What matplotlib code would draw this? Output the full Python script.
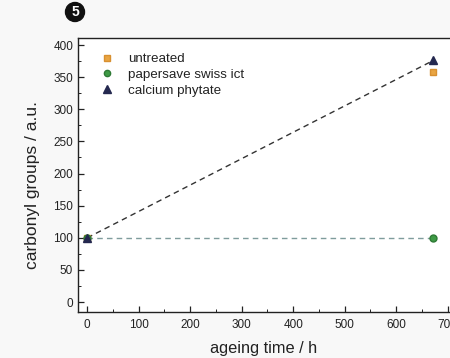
import matplotlib
matplotlib.use("Agg")
import matplotlib.pyplot as plt
from matplotlib.ticker import MultipleLocator

plt.rcParams['font.family'] = ['Liberation Sans', 'DejaVu Sans']

time_h = [0, 672]
untreated = [100, 358]
papersave = [100, 100]
calcium = [100, 376]

fig = plt.figure(figsize=(4.5, 3.58), dpi=100, facecolor='#F8F8F8')
ax = fig.add_axes([78/450, (358-312)/358, 1 - 78/450 + 0.02, (312-38)/358])
ax.set_facecolor('white')

ax.plot(time_h, calcium, linestyle=(0, (4, 3)), color='#333333', lw=1.0, zorder=1)
ax.plot(time_h, papersave, linestyle=(0, (4, 3)), color='#7F9C9C', lw=1.0, zorder=1)

ax.plot(time_h, untreated, 's', color='#E9A542', ms=4.5, mec='#D89030', label='untreated', zorder=3)
ax.plot(time_h, papersave, 'o', color='#3E9A45', ms=5, mec='#2E7A35', label='papersave swiss ict', zorder=3)
ax.plot(time_h, calcium, '^', color='#24284F', ms=6, label='calcium phytate', zorder=4)

ax.set_xlim(-18, 722)
ax.set_ylim(-15.5, 411)
ax.xaxis.set_major_locator(MultipleLocator(100))
ax.xaxis.set_minor_locator(MultipleLocator(50))
ax.yaxis.set_major_locator(MultipleLocator(50))
ax.yaxis.set_minor_locator(MultipleLocator(25))
ax.tick_params(which='both', direction='in', labelsize=8.5, colors='#222222')
ax.tick_params(which='major', length=4, width=0.9)
ax.tick_params(which='minor', length=2, width=0.7)
ax.tick_params(axis='x', pad=5)
for s in ['left', 'bottom', 'top']:
    ax.spines[s].set_linewidth(1.0)
    ax.spines[s].set_color('#222222')
ax.spines['right'].set_visible(False)

axw = ax.get_position().width * 450
axh = ax.get_position().height * 358
ax.set_xlabel('ageing time / h', fontsize=11.8, color='#222222')
ax.xaxis.set_label_coords((264-78)/axw, -(348-312)/axh)
ax.xaxis.label.set_va('center')
ax.set_ylabel('carbonyl groups / a.u.', fontsize=12.5, color='#222222')
ax.yaxis.set_label_coords(-(78-33)/axw, (312-185)/axh)
ax.yaxis.label.set_va('center')

leg = ax.legend(loc='upper left', bbox_to_anchor=(0.037, 0.975), frameon=False,
                fontsize=9.6, handlelength=1.0, handletextpad=1.1, labelspacing=0.25,
                borderaxespad=0.2, markerscale=0.9)
for t in leg.get_texts():
    t.set_color('#222222')

fig.text(75/450, 1 - 12/358, '5', ha='center', va='center', color='white',
         fontsize=10, fontweight='bold',
         bbox=dict(boxstyle='circle,pad=0.18', fc='#111111', ec='#111111'))

fig.savefig('out.png', dpi=100, facecolor=fig.get_facecolor())
